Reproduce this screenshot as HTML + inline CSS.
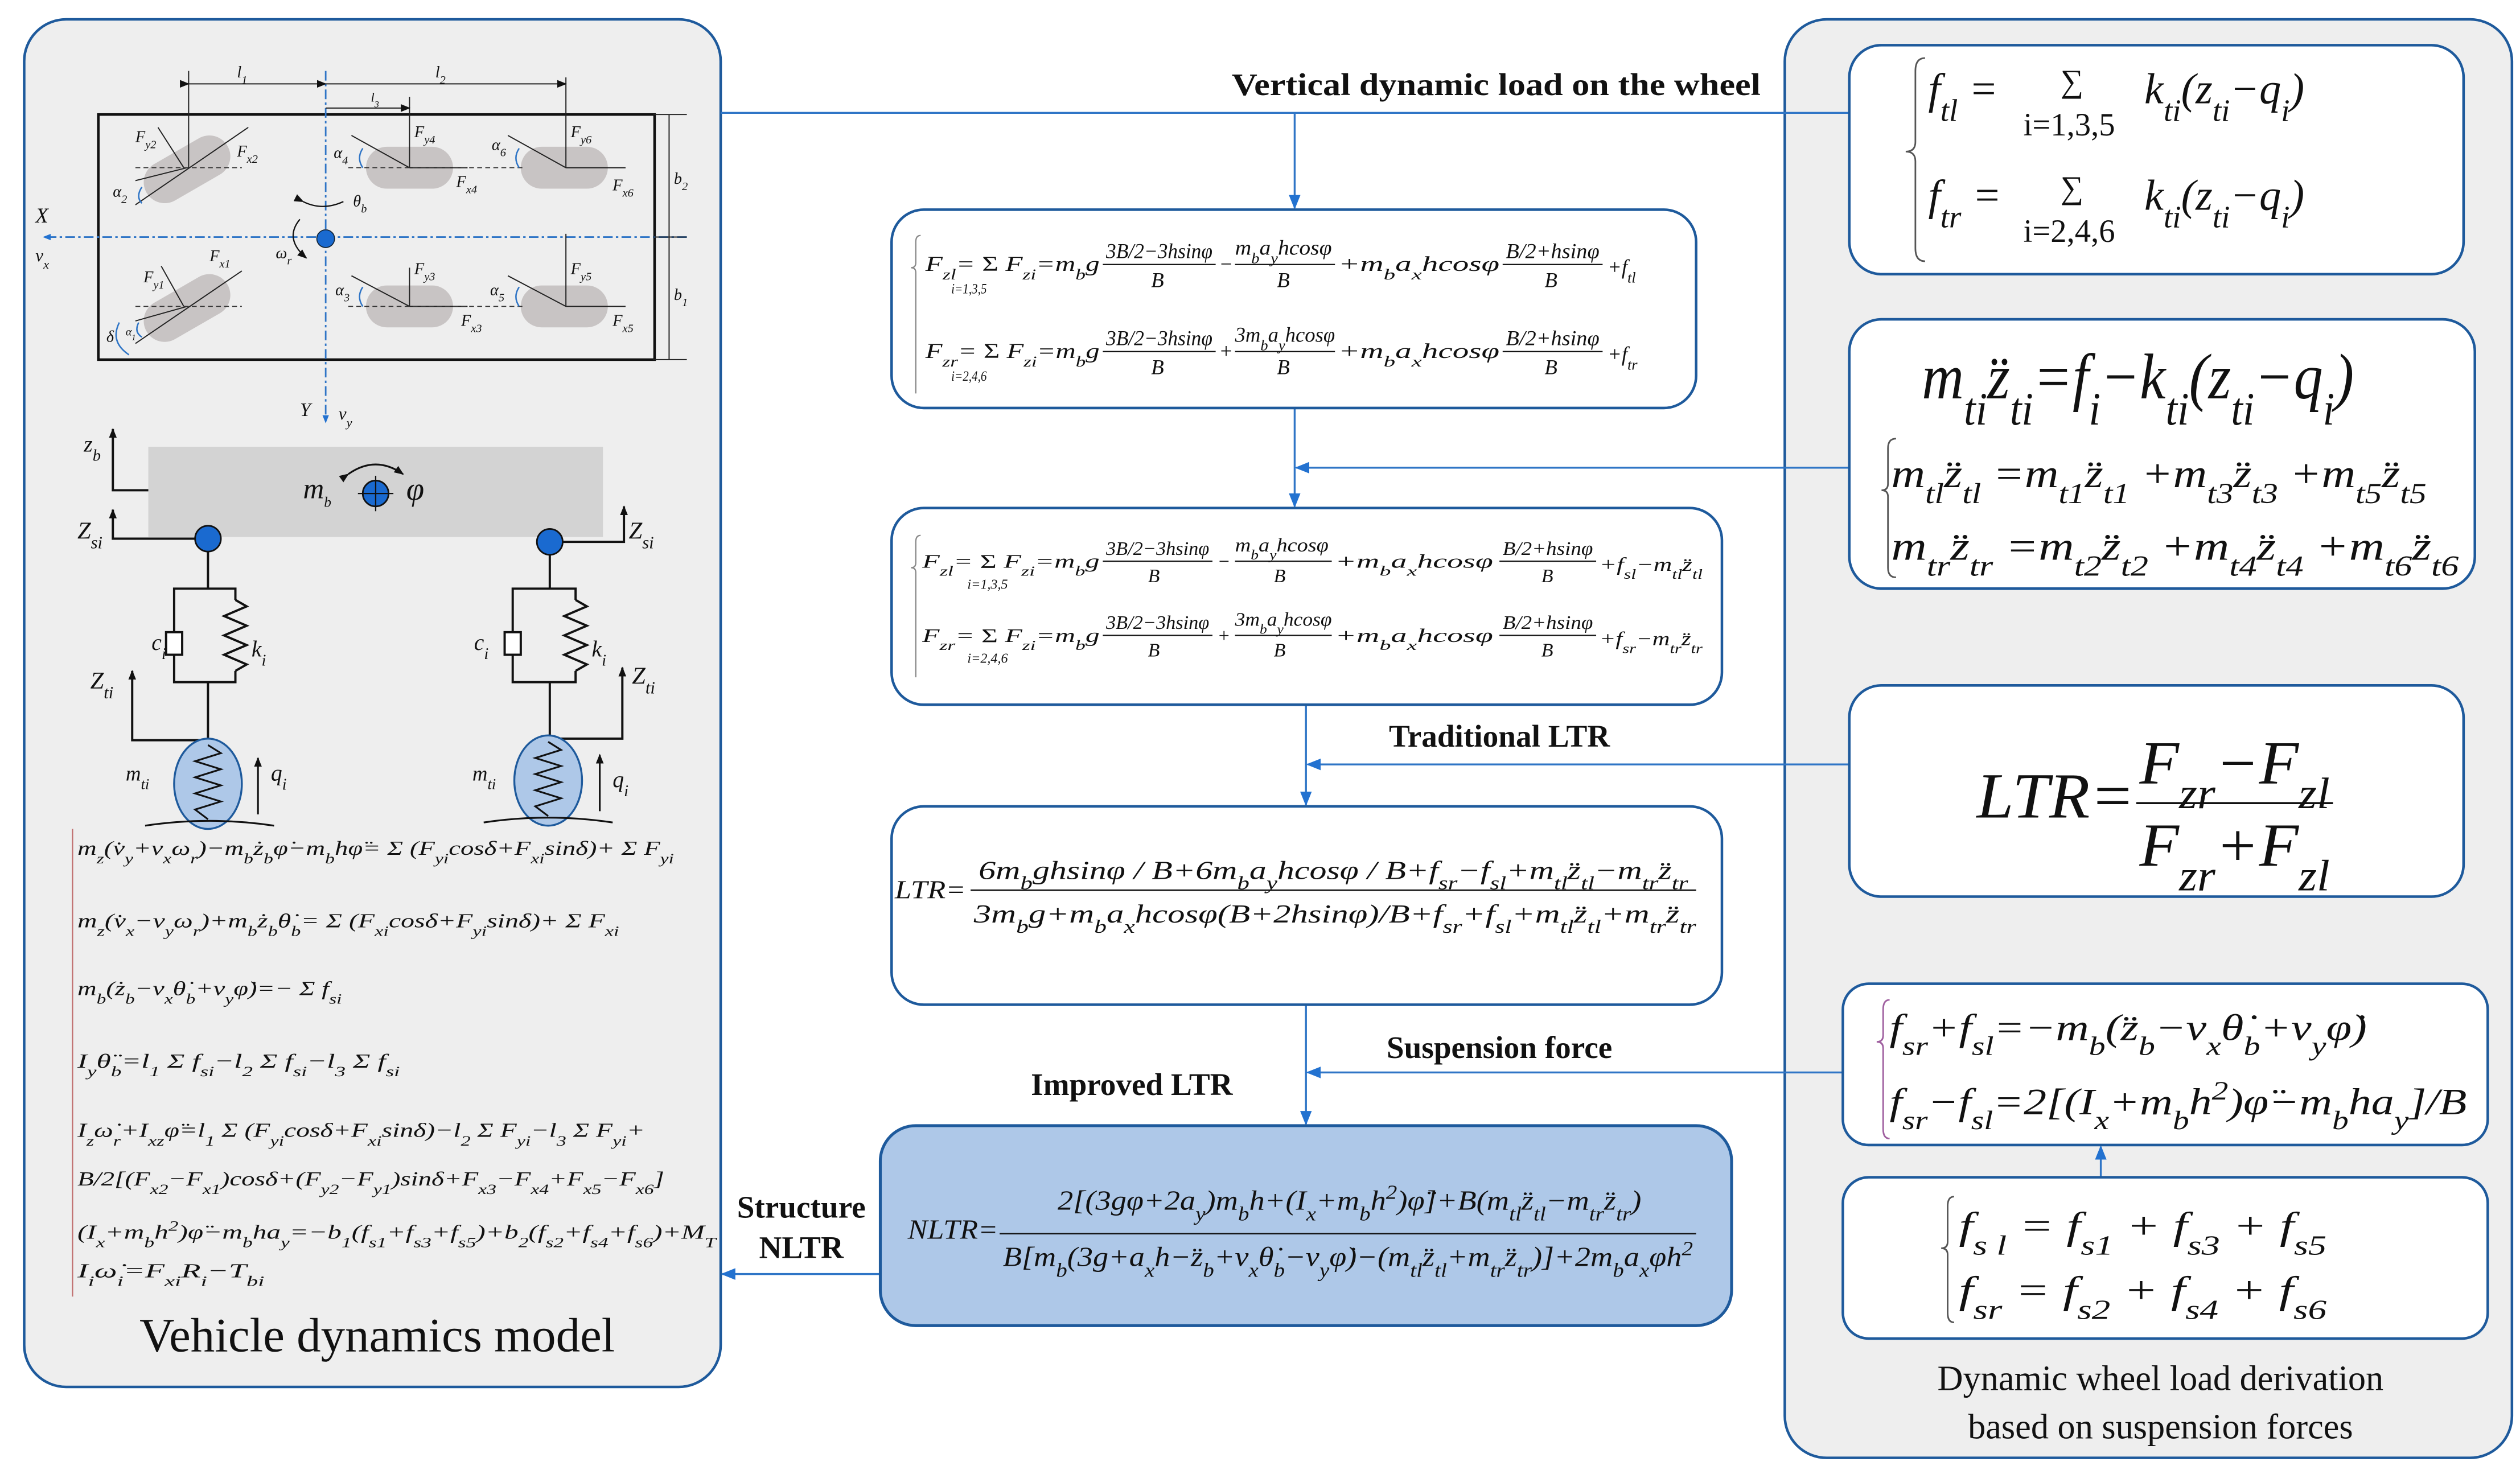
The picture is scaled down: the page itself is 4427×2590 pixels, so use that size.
<!DOCTYPE html>
<html><head><meta charset="utf-8"><style>
html,body{margin:0;padding:0;background:#fff;}
svg{display:block;}
text{font-family:"Liberation Serif",serif;fill:#111;}
.i{font-style:italic;}
.s{baseline-shift:sub;font-size:72%;}
.p{baseline-shift:super;font-size:72%;}
.b{font-weight:bold;}
.bl{stroke:#2f75c6;stroke-width:1.2;fill:none;}
</style></head><body>
<svg width="4427" height="2590" viewBox="0 0 1563 914" preserveAspectRatio="none" xmlns="http://www.w3.org/2000/svg">
<defs>
<marker id="ah" viewBox="0 0 10 10" refX="9" refY="5" markerWidth="9" markerHeight="9" markerUnits="userSpaceOnUse" orient="auto"><path d="M0,1 L10,5 L0,9 z" fill="#2372d0"/></marker>
<marker id="ak" viewBox="0 0 10 10" refX="9" refY="5" markerWidth="6" markerHeight="6" markerUnits="userSpaceOnUse" orient="auto"><path d="M0,1 L10,5 L0,9 z" fill="#111"/></marker>
<marker id="ab" viewBox="0 0 10 10" refX="9" refY="5" markerWidth="5" markerHeight="5" markerUnits="userSpaceOnUse" orient="auto"><path d="M0,1 L10,5 L0,9 z" fill="#2372d0"/></marker>
</defs>

<!-- panels -->
<rect x="15" y="12" width="432" height="848" rx="26" fill="#eeeeee" stroke="#1e5a9c" stroke-width="1.6"/>
<rect x="1107" y="12" width="451" height="892" rx="26" fill="#eeeeee" stroke="#1e5a9c" stroke-width="1.6"/>

<!-- connectors -->
<g stroke="#2f75c6" stroke-width="1.2" fill="none">
<line x1="447" y1="70" x2="1147" y2="70"/>
<line x1="803" y1="70" x2="803" y2="129" marker-end="url(#ah)"/>
<line x1="803" y1="253" x2="803" y2="314" marker-end="url(#ah)"/>
<line x1="1147" y1="290" x2="804" y2="290" marker-end="url(#ah)"/>
<line x1="810" y1="437" x2="810" y2="499" marker-end="url(#ah)"/>
<line x1="1147" y1="474" x2="811" y2="474" marker-end="url(#ah)"/>
<line x1="810" y1="623" x2="810" y2="697" marker-end="url(#ah)"/>
<line x1="1143" y1="665" x2="811" y2="665" marker-end="url(#ah)"/>
<line x1="546" y1="790" x2="448" y2="790" marker-end="url(#ah)"/>
<line x1="1303" y1="730" x2="1303" y2="711" marker-end="url(#ah)"/>
</g>
<text x="928" y="59" font-size="19.5" class="b" text-anchor="middle" textLength="328" lengthAdjust="spacingAndGlyphs">Vertical dynamic load on the wheel</text>
<text x="930" y="463" font-size="19.5" class="b" text-anchor="middle">Traditional LTR</text>
<text x="930" y="656" font-size="19.5" class="b" text-anchor="middle">Suspension force</text>
<text x="702" y="679" font-size="19.5" class="b" text-anchor="middle">Improved LTR</text>
<text x="497" y="755" font-size="19.5" class="b" text-anchor="middle">Structure</text>
<text x="497" y="780" font-size="19.5" class="b" text-anchor="middle">NLTR</text>

<!-- center boxes -->
<rect x="553" y="130" width="499" height="123" rx="20" fill="#fff" stroke="#1e5a9c" stroke-width="1.6"/>
<rect x="553" y="315" width="515" height="122" rx="20" fill="#fff" stroke="#1e5a9c" stroke-width="1.6"/>
<rect x="553" y="500" width="515" height="123" rx="20" fill="#fff" stroke="#1e5a9c" stroke-width="1.6"/>
<rect x="546" y="698" width="528" height="124" rx="22" fill="#aec8e8" stroke="#1e5a9c" stroke-width="1.8"/>

<!-- box1 -->
<g font-size="13" class="i">
<path d="M571,146 q-3,0 -3,4 v13 q0,3 -3,3 q3,0 3,3 v75" stroke="#888" fill="none" stroke-width="0.8"/>
<text x="574" y="168" textLength="108" lengthAdjust="spacingAndGlyphs">F<tspan class="s">zl</tspan>= <tspan font-style="normal">Σ</tspan> F<tspan class="s">zi</tspan>=m<tspan class="s">b</tspan>g</text>
<text x="590" y="182" font-size="9" textLength="22" lengthAdjust="spacingAndGlyphs">i=1,3,5</text>
<text x="686" y="160" textLength="66" lengthAdjust="spacingAndGlyphs">3B/2−3hsinφ</text>
<line x1="684" y1="164" x2="754" y2="164" stroke="#111" stroke-width="0.8"/>
<text x="714" y="178">B</text>
<text x="756" y="168">−</text>
<text x="766" y="158" textLength="60" lengthAdjust="spacingAndGlyphs">m<tspan class="s">b</tspan>a<tspan class="s">y</tspan>hcosφ</text>
<line x1="766" y1="164" x2="828" y2="164" stroke="#111" stroke-width="0.8"/>
<text x="792" y="178">B</text>
<text x="830" y="168" textLength="100" lengthAdjust="spacingAndGlyphs">+m<tspan class="s">b</tspan>a<tspan class="s">x</tspan>hcosφ</text>
<text x="934" y="160" textLength="58" lengthAdjust="spacingAndGlyphs">B/2+hsinφ</text>
<line x1="932" y1="164" x2="994" y2="164" stroke="#111" stroke-width="0.8"/>
<text x="958" y="178">B</text>
<text x="997" y="170">+f<tspan class="s">tl</tspan></text>

<text x="574" y="222" textLength="108" lengthAdjust="spacingAndGlyphs">F<tspan class="s">zr</tspan>= <tspan font-style="normal">Σ</tspan> F<tspan class="s">zi</tspan>=m<tspan class="s">b</tspan>g</text>
<text x="590" y="236" font-size="9" textLength="22" lengthAdjust="spacingAndGlyphs">i=2,4,6</text>
<text x="686" y="214" textLength="66" lengthAdjust="spacingAndGlyphs">3B/2−3hsinφ</text>
<line x1="684" y1="218" x2="754" y2="218" stroke="#111" stroke-width="0.8"/>
<text x="714" y="232">B</text>
<text x="756" y="222">+</text>
<text x="766" y="212" textLength="62" lengthAdjust="spacingAndGlyphs">3m<tspan class="s">b</tspan>a<tspan class="s">y</tspan>hcosφ</text>
<line x1="766" y1="218" x2="828" y2="218" stroke="#111" stroke-width="0.8"/>
<text x="792" y="232">B</text>
<text x="830" y="222" textLength="100" lengthAdjust="spacingAndGlyphs">+m<tspan class="s">b</tspan>a<tspan class="s">x</tspan>hcosφ</text>
<text x="934" y="214" textLength="58" lengthAdjust="spacingAndGlyphs">B/2+hsinφ</text>
<line x1="932" y1="218" x2="994" y2="218" stroke="#111" stroke-width="0.8"/>
<text x="958" y="232">B</text>
<text x="997" y="224">+f<tspan class="s">tr</tspan></text>
</g>

<!-- box2 -->
<g font-size="12" class="i">
<path d="M571,332 q-3,0 -3,4 v13 q0,3 -3,3 q3,0 3,3 v65" stroke="#888" fill="none" stroke-width="0.8"/>
<text x="572" y="352" textLength="110" lengthAdjust="spacingAndGlyphs">F<tspan class="s">zl</tspan>= <tspan font-style="normal">Σ</tspan> F<tspan class="s">zi</tspan>=m<tspan class="s">b</tspan>g</text>
<text x="600" y="365" font-size="8.5">i=1,3,5</text>
<text x="686" y="344" textLength="64" lengthAdjust="spacingAndGlyphs">3B/2−3hsinφ</text>
<line x1="684" y1="348" x2="752" y2="348" stroke="#111" stroke-width="0.8"/>
<text x="712" y="361">B</text>
<text x="755" y="352">−</text>
<text x="766" y="342" textLength="58" lengthAdjust="spacingAndGlyphs">m<tspan class="s">b</tspan>a<tspan class="s">y</tspan>hcosφ</text>
<line x1="766" y1="348" x2="826" y2="348" stroke="#111" stroke-width="0.8"/>
<text x="790" y="361">B</text>
<text x="828" y="352" textLength="98" lengthAdjust="spacingAndGlyphs">+m<tspan class="s">b</tspan>a<tspan class="s">x</tspan>hcosφ</text>
<text x="932" y="344" textLength="56" lengthAdjust="spacingAndGlyphs">B/2+hsinφ</text>
<line x1="930" y1="348" x2="990" y2="348" stroke="#111" stroke-width="0.8"/>
<text x="956" y="361">B</text>
<text x="992" y="354" textLength="64" lengthAdjust="spacingAndGlyphs">+f<tspan class="s">sl</tspan>−m<tspan class="s">tl</tspan>z̈<tspan class="s">tl</tspan></text>

<text x="572" y="398" textLength="110" lengthAdjust="spacingAndGlyphs">F<tspan class="s">zr</tspan>= <tspan font-style="normal">Σ</tspan> F<tspan class="s">zi</tspan>=m<tspan class="s">b</tspan>g</text>
<text x="600" y="411" font-size="8.5">i=2,4,6</text>
<text x="686" y="390" textLength="64" lengthAdjust="spacingAndGlyphs">3B/2−3hsinφ</text>
<line x1="684" y1="394" x2="752" y2="394" stroke="#111" stroke-width="0.8"/>
<text x="712" y="407">B</text>
<text x="755" y="398">+</text>
<text x="766" y="388" textLength="60" lengthAdjust="spacingAndGlyphs">3m<tspan class="s">b</tspan>a<tspan class="s">y</tspan>hcosφ</text>
<line x1="766" y1="394" x2="826" y2="394" stroke="#111" stroke-width="0.8"/>
<text x="790" y="407">B</text>
<text x="828" y="398" textLength="98" lengthAdjust="spacingAndGlyphs">+m<tspan class="s">b</tspan>a<tspan class="s">x</tspan>hcosφ</text>
<text x="932" y="390" textLength="56" lengthAdjust="spacingAndGlyphs">B/2+hsinφ</text>
<line x1="930" y1="394" x2="990" y2="394" stroke="#111" stroke-width="0.8"/>
<text x="956" y="407">B</text>
<text x="992" y="400" textLength="64" lengthAdjust="spacingAndGlyphs">+f<tspan class="s">sr</tspan>−m<tspan class="s">tr</tspan>z̈<tspan class="s">tr</tspan></text>
</g>

<!-- box3 LTR -->
<g font-size="16" class="i">
<text x="555" y="557" textLength="44" lengthAdjust="spacingAndGlyphs">LTR=</text>
<text x="607" y="545" textLength="440" lengthAdjust="spacingAndGlyphs">6m<tspan class="s">b</tspan>ghsinφ / B+6m<tspan class="s">b</tspan>a<tspan class="s">y</tspan>hcosφ / B+f<tspan class="s">sr</tspan>−f<tspan class="s">sl</tspan>+m<tspan class="s">tl</tspan>z̈<tspan class="s">tl</tspan>−m<tspan class="s">tr</tspan>z̈<tspan class="s">tr</tspan></text>
<line x1="602" y1="552" x2="1052" y2="552" stroke="#111" stroke-width="0.9"/>
<text x="604" y="572" textLength="448" lengthAdjust="spacingAndGlyphs">3m<tspan class="s">b</tspan>g+m<tspan class="s">b</tspan>a<tspan class="s">x</tspan>hcosφ(B+2hsinφ)/B+f<tspan class="s">sr</tspan>+f<tspan class="s">sl</tspan>+m<tspan class="s">tl</tspan>z̈<tspan class="s">tl</tspan>+m<tspan class="s">tr</tspan>z̈<tspan class="s">tr</tspan></text>
</g>

<!-- box4 NLTR -->
<g font-size="17" class="i">
<text x="563" y="768" textLength="56" lengthAdjust="spacingAndGlyphs">NLTR=</text>
<text x="656" y="750" textLength="362" lengthAdjust="spacingAndGlyphs">2[(3gφ+2a<tspan class="s">y</tspan>)m<tspan class="s">b</tspan>h+(I<tspan class="s">x</tspan>+m<tspan class="s">b</tspan>h<tspan class="p">2</tspan>)φ̈]+B(m<tspan class="s">tl</tspan>z̈<tspan class="s">tl</tspan>−m<tspan class="s">tr</tspan>z̈<tspan class="s">tr</tspan>)</text>
<line x1="620" y1="765" x2="1052" y2="765" stroke="#111" stroke-width="0.9"/>
<text x="622" y="785" textLength="428" lengthAdjust="spacingAndGlyphs">B[m<tspan class="s">b</tspan>(3g+a<tspan class="s">x</tspan>h−z̈<tspan class="s">b</tspan>+v<tspan class="s">x</tspan>θ̇<tspan class="s">b</tspan>−v<tspan class="s">y</tspan>φ̇)−(m<tspan class="s">tl</tspan>z̈<tspan class="s">tl</tspan>+m<tspan class="s">tr</tspan>z̈<tspan class="s">tr</tspan>)]+2m<tspan class="s">b</tspan>a<tspan class="s">x</tspan>φh<tspan class="p">2</tspan></text>
</g>

<!-- right boxes -->
<rect x="1147" y="28" width="381" height="142" rx="20" fill="#fff" stroke="#1e5a9c" stroke-width="1.6"/>
<rect x="1147" y="198" width="388" height="167" rx="20" fill="#fff" stroke="#1e5a9c" stroke-width="1.6"/>
<rect x="1147" y="425" width="381" height="131" rx="20" fill="#fff" stroke="#1e5a9c" stroke-width="1.6"/>
<rect x="1143" y="610" width="400" height="100" rx="16" fill="#fff" stroke="#1e5a9c" stroke-width="1.6"/>
<rect x="1143" y="730" width="400" height="100" rx="16" fill="#fff" stroke="#1e5a9c" stroke-width="1.6"/>

<g class="i">
<path d="M1194,36 q-6,0 -6,8 v44 q0,6 -6,6 q6,0 6,6 v54 q0,8 6,8" stroke="#555" fill="none" stroke-width="1"/>
<text x="1196" y="64" font-size="27">f<tspan class="s">tl</tspan> =</text>
<text x="1278" y="57" font-size="20" font-style="normal">∑</text>
<text x="1255" y="84" font-size="20" font-style="normal">i=1,3,5</text>
<text x="1330" y="64" font-size="27">k<tspan class="s">ti</tspan>(z<tspan class="s">ti</tspan>−q<tspan class="s">i</tspan>)</text>
<text x="1196" y="130" font-size="27">f<tspan class="s">tr</tspan> =</text>
<text x="1278" y="123" font-size="20" font-style="normal">∑</text>
<text x="1255" y="150" font-size="20" font-style="normal">i=2,4,6</text>
<text x="1330" y="130" font-size="27">k<tspan class="s">ti</tspan>(z<tspan class="s">ti</tspan>−q<tspan class="s">i</tspan>)</text>

<text x="1192" y="247" font-size="40" textLength="268" lengthAdjust="spacingAndGlyphs">m<tspan class="s">ti</tspan>z̈<tspan class="s">ti</tspan>=f<tspan class="s">i</tspan>−k<tspan class="s">ti</tspan>(z<tspan class="s">ti</tspan>−q<tspan class="s">i</tspan>)</text>
<path d="M1176,272 q-5,0 -5,6 v22 q0,4 -4,4 q4,0 4,4 v44 q0,6 5,6" stroke="#555" fill="none" stroke-width="1"/>
<text x="1173" y="302" font-size="25" textLength="332" lengthAdjust="spacingAndGlyphs">m<tspan class="s">tl</tspan>z̈<tspan class="s">tl</tspan> =m<tspan class="s">t1</tspan>z̈<tspan class="s">t1</tspan> +m<tspan class="s">t3</tspan>z̈<tspan class="s">t3</tspan> +m<tspan class="s">t5</tspan>z̈<tspan class="s">t5</tspan></text>
<text x="1173" y="347" font-size="25" textLength="352" lengthAdjust="spacingAndGlyphs">m<tspan class="s">tr</tspan>z̈<tspan class="s">tr</tspan> =m<tspan class="s">t2</tspan>z̈<tspan class="s">t2</tspan> +m<tspan class="s">t4</tspan>z̈<tspan class="s">t4</tspan> +m<tspan class="s">t6</tspan>z̈<tspan class="s">t6</tspan></text>

<text x="1226" y="507" font-size="40" textLength="98" lengthAdjust="spacingAndGlyphs">LTR=</text>
<text x="1327" y="486" font-size="38" textLength="118" lengthAdjust="spacingAndGlyphs">F<tspan class="s">zr</tspan>−F<tspan class="s">zl</tspan></text>
<line x1="1325" y1="498" x2="1447" y2="498" stroke="#111" stroke-width="1.3"/>
<text x="1327" y="537" font-size="38" textLength="118" lengthAdjust="spacingAndGlyphs">F<tspan class="s">zr</tspan>+F<tspan class="s">zl</tspan></text>

<path d="M1172,620 q-4,0 -4,6 v16 q0,4 -4,4 q4,0 4,4 v50 q0,6 4,6" stroke="#a060a0" fill="none" stroke-width="1"/>
<text x="1172" y="645" font-size="23" textLength="296" lengthAdjust="spacingAndGlyphs">f<tspan class="s">sr</tspan>+f<tspan class="s">sl</tspan>=−m<tspan class="s">b</tspan>(z̈<tspan class="s">b</tspan>−v<tspan class="s">x</tspan>θ̇<tspan class="s">b</tspan>+v<tspan class="s">y</tspan>φ̇)</text>
<text x="1172" y="691" font-size="23" textLength="358" lengthAdjust="spacingAndGlyphs">f<tspan class="s">sr</tspan>−f<tspan class="s">sl</tspan>=2[(I<tspan class="s">x</tspan>+m<tspan class="s">b</tspan>h<tspan class="p">2</tspan>)φ̈−m<tspan class="s">b</tspan>ha<tspan class="s">y</tspan>]/B</text>

<path d="M1212,742 q-4,0 -4,6 v22 q0,4 -4,4 q4,0 4,4 v36 q0,6 4,6" stroke="#555" fill="none" stroke-width="1"/>
<text x="1215" y="768" font-size="24" textLength="228" lengthAdjust="spacingAndGlyphs">f<tspan class="s">s l</tspan> = f<tspan class="s">s1</tspan> + f<tspan class="s">s3</tspan> + f<tspan class="s">s5</tspan></text>
<text x="1215" y="808" font-size="24" textLength="228" lengthAdjust="spacingAndGlyphs">f<tspan class="s">sr</tspan> = f<tspan class="s">s2</tspan> + f<tspan class="s">s4</tspan> + f<tspan class="s">s6</tspan></text>
</g>
<text x="1340" y="862" font-size="22" text-anchor="middle">Dynamic wheel load derivation</text>
<text x="1340" y="892" font-size="22" text-anchor="middle">based on suspension forces</text>

<!-- left diagram: top view -->
<rect x="61" y="71" width="345" height="152" fill="none" stroke="#111" stroke-width="1.6"/>
<g stroke="#2f75c6" stroke-width="1" stroke-dasharray="6,2,1.5,2" fill="none">
<line x1="426" y1="147" x2="27" y2="147" marker-end="url(#ab)"/>
<line x1="202" y1="44" x2="202" y2="262" marker-end="url(#ab)"/>
</g>
<circle cx="202" cy="148" r="5.5" fill="#1a6ad0" stroke="#123" stroke-width="0.6"/>
<!-- wheels -->
<g fill="#c8c4c4">
<rect x="-29" y="-13" width="58" height="26" rx="13" transform="translate(116,105) rotate(-30)"/>
<rect x="-29" y="-13" width="58" height="26" rx="13" transform="translate(116,191) rotate(-30)"/>
<rect x="227" y="91" width="54" height="26" rx="13"/>
<rect x="323" y="91" width="54" height="26" rx="13"/>
<rect x="227" y="177" width="54" height="26" rx="13"/>
<rect x="323" y="177" width="54" height="26" rx="13"/>
</g>
<g stroke="#222" stroke-width="0.7" fill="none">
<line x1="84" y1="127" x2="154" y2="79"/><line x1="84" y1="213" x2="150" y2="168"/>
<line x1="98" y1="79" x2="114" y2="104"/><line x1="100" y1="165" x2="114" y2="190"/>
<line x1="84" y1="112" x2="116" y2="104"/><line x1="84" y1="199" x2="116" y2="190"/>
<line x1="117" y1="44" x2="117" y2="104"/>
<line x1="254" y1="60" x2="254" y2="104"/><line x1="351" y1="48" x2="351" y2="104"/>
<line x1="254" y1="166" x2="254" y2="190"/><line x1="351" y1="145" x2="351" y2="190"/>
<line x1="218" y1="84" x2="254" y2="104"/><line x1="315" y1="84" x2="351" y2="104"/>
<line x1="218" y1="171" x2="254" y2="190"/><line x1="315" y1="171" x2="351" y2="190"/>
<line x1="254" y1="104" x2="290" y2="104"/><line x1="351" y1="104" x2="388" y2="104"/>
<line x1="254" y1="190" x2="290" y2="190"/><line x1="351" y1="190" x2="388" y2="190"/>
</g>
<g stroke="#333" stroke-width="0.6" stroke-dasharray="3,2" fill="none">
<line x1="84" y1="104" x2="150" y2="104"/><line x1="84" y1="190" x2="150" y2="190"/>
<line x1="216" y1="104" x2="325" y2="104"/><line x1="216" y1="190" x2="325" y2="190"/>
</g>
<g stroke="#222" stroke-width="0.7">
<line x1="117" y1="52" x2="202" y2="52" marker-start="url(#ak)" marker-end="url(#ak)"/>
<line x1="202" y1="52" x2="351" y2="52" marker-end="url(#ak)"/>
<line x1="202" y1="67" x2="254" y2="67" marker-end="url(#ak)"/>
<line x1="415" y1="71" x2="415" y2="223"/>
<line x1="405" y1="71" x2="426" y2="71"/><line x1="405" y1="147" x2="426" y2="147"/><line x1="405" y1="223" x2="426" y2="223"/>
</g>
<g font-size="10" class="i">
<text x="147" y="48">l<tspan class="s">1</tspan></text><text x="270" y="48">l<tspan class="s">2</tspan></text><text x="230" y="63" font-size="8">l<tspan class="s">3</tspan></text>
<text x="418" y="114">b<tspan class="s">2</tspan></text><text x="418" y="186">b<tspan class="s">1</tspan></text>
<text x="84" y="88">F<tspan class="s">y2</tspan></text><text x="147" y="97">F<tspan class="s">x2</tspan></text>
<text x="89" y="175">F<tspan class="s">y1</tspan></text><text x="130" y="162">F<tspan class="s">x1</tspan></text>
<text x="70" y="122">α<tspan class="s">2</tspan></text><text x="66" y="212">δ</text><text x="78" y="208" font-size="7">α<tspan class="s">1</tspan></text>
<text x="257" y="85">F<tspan class="s">y4</tspan></text><text x="354" y="85">F<tspan class="s">y6</tspan></text>
<text x="257" y="170">F<tspan class="s">y3</tspan></text><text x="354" y="170">F<tspan class="s">y5</tspan></text>
<text x="283" y="116">F<tspan class="s">x4</tspan></text><text x="380" y="118">F<tspan class="s">x6</tspan></text>
<text x="286" y="202">F<tspan class="s">x3</tspan></text><text x="380" y="202">F<tspan class="s">x5</tspan></text>
<text x="207" y="98">α<tspan class="s">4</tspan></text><text x="305" y="93">α<tspan class="s">6</tspan></text>
<text x="208" y="183">α<tspan class="s">3</tspan></text><text x="304" y="183">α<tspan class="s">5</tspan></text>
<text x="219" y="128">θ<tspan class="s">b</tspan></text><text x="171" y="160">ω<tspan class="s">r</tspan></text>
</g>
<text x="22" y="138" font-size="13" class="i">X</text>
<text x="22" y="162" font-size="11" class="i">v<tspan class="s">x</tspan></text>
<text x="186" y="258" font-size="12" class="i">Y</text>
<text x="210" y="260" font-size="11" class="i">v<tspan class="s">y</tspan></text>
<path d="M188,125 q12,6 25,0" stroke="#111" fill="none" stroke-width="0.8" marker-start="url(#ak)"/>
<path d="M186,136 q-10,12 4,24" stroke="#111" fill="none" stroke-width="0.8" marker-end="url(#ak)"/>
<g stroke="#2f75c6" stroke-width="0.9" fill="none">
<path d="M88,116 q-4,6 0,10"/><path d="M74,200 q-6,12 6,20"/><path d="M86,200 q-3,6 2,9"/>
<path d="M225,92 q-4,6 0,12"/><path d="M322,92 q-4,6 0,12"/><path d="M225,178 q-4,6 0,12"/><path d="M322,178 q-4,6 0,12"/>
</g>

<!-- side view -->
<rect x="92" y="277" width="282" height="56" fill="#d3d3d3"/>
<g stroke="#111" stroke-width="1.4" fill="none">
<polyline points="92,304 70,304 70,266" marker-end="url(#ak)"/>
<polyline points="129,334 70,334 70,316" marker-end="url(#ak)"/>
<polyline points="341,336 387,336 387,314" marker-end="url(#ak)"/>
<line x1="129" y1="334" x2="129" y2="365"/><line x1="341" y1="336" x2="341" y2="365"/>
<polyline points="108,393 108,365 146,365 146,372"/><polyline points="108,406 108,423 146,423 146,416"/>
<polyline points="318,393 318,365 357,365 357,372"/><polyline points="318,406 318,423 357,423 357,416"/>
<polyline points="146,372 153,376 139,382 153,388 139,394 153,400 139,406 153,412 146,416"/>
<polyline points="357,372 364,376 350,382 364,388 350,394 364,400 350,406 364,412 357,416"/>
<rect x="103" y="392" width="10" height="14" fill="#fff"/><rect x="313" y="392" width="10" height="14" fill="#fff"/>
<line x1="129" y1="423" x2="129" y2="460"/><line x1="341" y1="423" x2="341" y2="458"/>
<polyline points="129,459 82,459 82,416" marker-end="url(#ak)"/>
<polyline points="341,458 386,458 386,414" marker-end="url(#ak)"/>
</g>
<ellipse cx="129" cy="486" rx="21" ry="28" fill="#aec8e8" stroke="#1e5a9c" stroke-width="1.2"/>
<ellipse cx="340" cy="484" rx="21" ry="28" fill="#aec8e8" stroke="#1e5a9c" stroke-width="1.2"/>
<g stroke="#111" stroke-width="1.1" fill="none">
<polyline points="129,462 137,467 121,472 137,477 121,482 137,487 121,492 137,497 121,502 129,508"/>
<polyline points="340,460 348,465 332,470 348,475 332,480 348,485 332,490 348,495 332,500 340,506"/>
<path d="M90,512 q40,-6 80,0"/><path d="M300,510 q40,-6 80,0"/>
<line x1="160" y1="505" x2="160" y2="470" marker-end="url(#ak)"/>
<line x1="372" y1="503" x2="372" y2="468" marker-end="url(#ak)"/>
<path d="M216,294 q17,-12 34,0" marker-start="url(#ak)" marker-end="url(#ak)"/>
</g>
<circle cx="129" cy="334" r="8" fill="#1a6ad0" stroke="#111" stroke-width="1"/>
<circle cx="341" cy="336" r="8" fill="#1a6ad0" stroke="#111" stroke-width="1"/>
<circle cx="233" cy="306" r="8" fill="#1a6ad0" stroke="#111" stroke-width="1"/>
<line x1="222" y1="306" x2="244" y2="306" stroke="#111" stroke-width="0.8"/><line x1="233" y1="295" x2="233" y2="317" stroke="#111" stroke-width="0.8"/>
<g class="i">
<text x="52" y="280" font-size="14">z<tspan class="s">b</tspan></text>
<text x="188" y="309" font-size="18">m<tspan font-size="9" baseline-shift="sub">b</tspan></text>
<text x="252" y="310" font-size="20">φ</text>
<text x="48" y="334" font-size="15">Z<tspan class="s">si</tspan></text>
<text x="390" y="334" font-size="15">Z<tspan class="s">si</tspan></text>
<text x="94" y="403" font-size="14">c<tspan class="s">i</tspan></text><text x="156" y="407" font-size="14">k<tspan class="s">i</tspan></text>
<text x="294" y="403" font-size="14">c<tspan class="s">i</tspan></text><text x="367" y="407" font-size="14">k<tspan class="s">i</tspan></text>
<text x="56" y="427" font-size="15">Z<tspan class="s">ti</tspan></text><text x="392" y="424" font-size="15">Z<tspan class="s">ti</tspan></text>
<text x="78" y="484" font-size="13">m<tspan class="s">ti</tspan></text><text x="293" y="484" font-size="13">m<tspan class="s">ti</tspan></text>
<text x="168" y="484" font-size="14">q<tspan class="s">i</tspan></text><text x="380" y="488" font-size="14">q<tspan class="s">i</tspan></text>
</g>

<!-- left equations -->
<path d="M45,514 v290" stroke="#c07070" stroke-width="0.8"/>
<g font-size="12.5" class="i">
<text x="48" y="530" textLength="370" lengthAdjust="spacingAndGlyphs">m<tspan class="s">z</tspan>(v̇<tspan class="s">y</tspan>+v<tspan class="s">x</tspan>ω<tspan class="s">r</tspan>)−m<tspan class="s">b</tspan>ż<tspan class="s">b</tspan>φ̇−m<tspan class="s">b</tspan>hφ̈= Σ (F<tspan class="s">yi</tspan>cosδ+F<tspan class="s">xi</tspan>sinδ)+ Σ F<tspan class="s">yi</tspan></text>
<text x="48" y="575" textLength="336" lengthAdjust="spacingAndGlyphs">m<tspan class="s">z</tspan>(v̇<tspan class="s">x</tspan>−v<tspan class="s">y</tspan>ω<tspan class="s">r</tspan>)+m<tspan class="s">b</tspan>ż<tspan class="s">b</tspan>θ̇<tspan class="s">b</tspan>= Σ (F<tspan class="s">xi</tspan>cosδ+F<tspan class="s">yi</tspan>sinδ)+ Σ F<tspan class="s">xi</tspan></text>
<text x="48" y="617" textLength="164" lengthAdjust="spacingAndGlyphs">m<tspan class="s">b</tspan>(ż<tspan class="s">b</tspan>−v<tspan class="s">x</tspan>θ̇<tspan class="s">b</tspan>+v<tspan class="s">y</tspan>φ̇)=− Σ f<tspan class="s">si</tspan></text>
<text x="48" y="662" textLength="200" lengthAdjust="spacingAndGlyphs">I<tspan class="s">y</tspan>θ̈<tspan class="s">b</tspan>=l<tspan class="s">1</tspan> Σ f<tspan class="s">si</tspan>−l<tspan class="s">2</tspan> Σ f<tspan class="s">si</tspan>−l<tspan class="s">3</tspan> Σ f<tspan class="s">si</tspan></text>
<text x="48" y="705" textLength="352" lengthAdjust="spacingAndGlyphs">I<tspan class="s">z</tspan>ω̇<tspan class="s">r</tspan>+I<tspan class="s">xz</tspan>φ̈=l<tspan class="s">1</tspan> Σ (F<tspan class="s">yi</tspan>cosδ+F<tspan class="s">xi</tspan>sinδ)−l<tspan class="s">2</tspan> Σ F<tspan class="s">yi</tspan>−l<tspan class="s">3</tspan> Σ F<tspan class="s">yi</tspan>+</text>
<text x="48" y="735" textLength="364" lengthAdjust="spacingAndGlyphs">B/2[(F<tspan class="s">x2</tspan>−F<tspan class="s">x1</tspan>)cosδ+(F<tspan class="s">y2</tspan>−F<tspan class="s">y1</tspan>)sinδ+F<tspan class="s">x3</tspan>−F<tspan class="s">x4</tspan>+F<tspan class="s">x5</tspan>−F<tspan class="s">x6</tspan>]</text>
<text x="48" y="768" textLength="396" lengthAdjust="spacingAndGlyphs">(I<tspan class="s">x</tspan>+m<tspan class="s">b</tspan>h<tspan class="p">2</tspan>)φ̈−m<tspan class="s">b</tspan>ha<tspan class="s">y</tspan>=−b<tspan class="s">1</tspan>(f<tspan class="s">s1</tspan>+f<tspan class="s">s3</tspan>+f<tspan class="s">s5</tspan>)+b<tspan class="s">2</tspan>(f<tspan class="s">s2</tspan>+f<tspan class="s">s4</tspan>+f<tspan class="s">s6</tspan>)+M<tspan class="s">T</tspan></text>
<text x="48" y="792" textLength="116" lengthAdjust="spacingAndGlyphs">I<tspan class="s">i</tspan>ω̇<tspan class="s">i</tspan>=F<tspan class="s">xi</tspan>R<tspan class="s">i</tspan>−T<tspan class="s">bi</tspan></text>
</g>
<text x="234" y="838" font-size="30" text-anchor="middle">Vehicle dynamics model</text>
</svg>
</body></html>
